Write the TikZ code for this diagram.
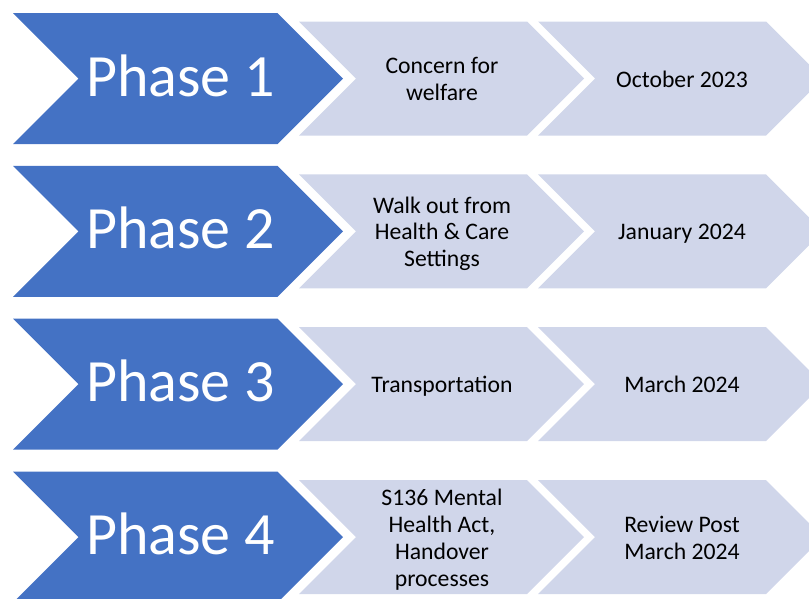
\documentclass[tikz,border=0pt]{standalone}
\usepackage{fontspec}
\setmainfont{Carlito}
\definecolor{phaseblue}{HTML}{4472C4}
\definecolor{steplight}{HTML}{D0D6EA}
% chevron: fill colour, left x, centre y, half height, total length
\newcommand\chevshape[5]{%
  \fill[#1] (#2,#3-#4) -- (#2+#5-#4,#3-#4) -- (#2+#5,#3) -- (#2+#5-#4,#3+#4)
    -- (#2,#3+#4) -- (#2+#4,#3) -- cycle;}
% line strut so every text line has the same height and depth
\newcommand\ls{\rule[-4.85pt]{0pt}{26.7pt}}
\begin{document}
\begin{tikzpicture}[x=1pt,y=-1pt,
  phasetext/.style={text=white,font=\fontsize{60}{72}\selectfont,inner sep=0pt,anchor=base},
  steptext/.style={text=black,font=\fontsize{23.7}{26.7}\selectfont,align=center,inner sep=0pt}]
\useasboundingbox (0,0) rectangle (809,598);
\begin{scope}
\clip (0,0) rectangle (809,598);
\foreach \yc in {78.5,231.3,384.2,537} {
  \chevshape{steplight}{299}{\yc}{57}{285}
  \chevshape{steplight}{538}{\yc}{57}{285}
  \chevshape{phaseblue}{13}{\yc}{65.5}{330}
}
\end{scope}
% row 1
\node[phasetext] (p1) at (180.5,96) {Phase 1};
\node[steptext] (w1) at (442,78.5) {\ls Concern for\\\ls welfare};
\node[steptext] (d1) at (682,78.5) {\ls October 2023};
% row 2
\node[phasetext] (p2) at (180.5,248.8) {Phase 2};
\node[steptext] (w2) at (442,231.3) {\ls Walk out from\\\ls Health \& Care\\\ls Settings};
\node[steptext] (d2) at (682,231.3) {\ls January 2024};
% row 3
\node[phasetext] (p3) at (180.5,401.7) {Phase 3};
\node[steptext] (w3) at (442,384.2) {\ls Transportation};
\node[steptext] (d3) at (682,384.2) {\ls March 2024};
% row 4
\node[phasetext] (p4) at (180.5,554.5) {Phase 4};
\node[steptext] (w4) at (442,537.5) {\ls S136 Mental\\\ls Health Act,\\\ls Handover\\\ls processes};
\node[steptext] (d4) at (682,537.5) {\ls Review Post\\\ls March 2024};
\end{tikzpicture}
\end{document}
